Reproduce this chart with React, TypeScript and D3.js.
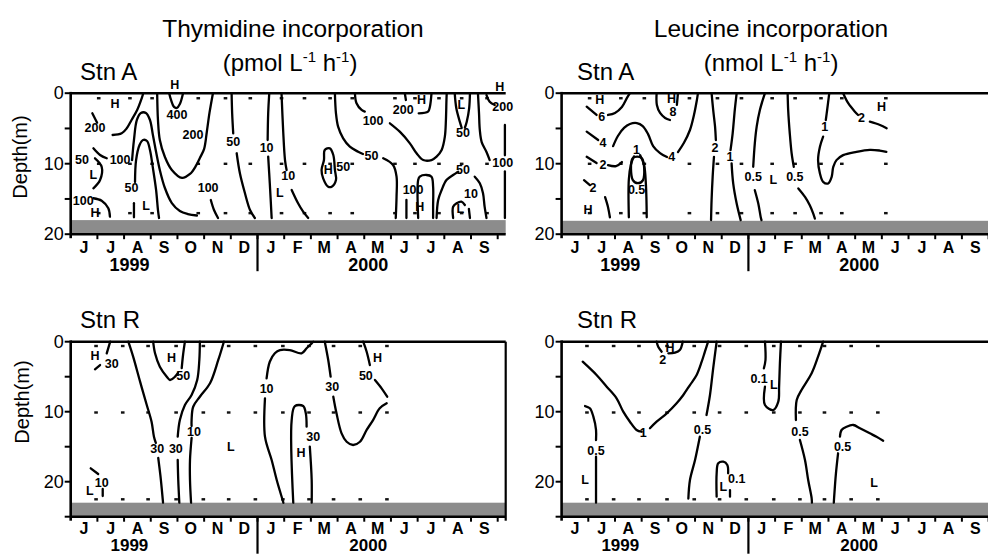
import React from 'react';
import * as d3 from 'd3';

type Pt = [number, number];
type Lbl = [string, number, number];

const FONT = "'Liberation Sans', Arial, Helvetica, sans-serif";
const MONTH_LABELS = ['J', 'J', 'A', 'S', 'O', 'N', 'D', 'J', 'F', 'M', 'A', 'M', 'J', 'J', 'A', 'S'];
const YEAR_LABELS: [string, number][] = [['1999', 2.2], ['2000', 11.15]];
const YEAR_BREAK = 7;
const X_SPAN = 16.3;
const Y_TICKS_A = [0, 5, 10, 15, 20];
const Y_TICKS_R = [0, 5, 10, 15, 20, 25];
const Y_LABELS = [0, 10, 20];

// sampling dates (months since 1 June 1999) and depths (m)
const SAMPLES_A_THY = [1.05, 2.22, 3.05, 4.78, 5.8, 6.73, 7.9, 8.76, 9.72, 10.55, 12.15, 12.9, 13.8, 14.65, 15.6];
const SAMPLES_A_LEU = [1.05, 2.22, 3.1, 4.79, 5.84, 6.74, 7.89, 8.75, 9.72, 10.5, 12.15];
const DEPTHS_A = [0.7, 10, 17];
const SAMPLES_R = [0.95, 1.95, 2.9, 3.95, 4.97, 5.92, 6.92, 7.95, 8.93, 9.85, 10.85, 11.85];
const DEPTHS_R = [0.6, 10.1, 22.5];

// Thymidine, Stn A: isolines [month, depth]
const THY_A_LINES: Pt[][] = [
  [[0.81, 2.85], [0.99, 4.18]],
  [[1.57, 5.93], [1.91, 5.69], [2.10, 4.98], [2.28, 3.80], [2.49, 2.38], [2.66, 0.72], [2.72, 0]],
  [[0.85, 7.82], [1.10, 8.77], [1.35, 9.23]],
  [[0.91, 9.23], [1.16, 10.43], [1.10, 12.31], [0.85, 13.49]],
  [[0.85, 14.9], [1.16, 15.25], [1.41, 16.33], [1.47, 17.52]],
  [[2.30, 9.48], [2.37, 6.64], [2.48, 3.8], [2.63, 2.81], [2.82, 2.81], [2.97, 3.8], [3.08, 5.93], [3.20, 8.34], [3.34, 10.89], [3.53, 13.45], [3.79, 15.58], [4.09, 16.71], [4.39, 17.14], [4.73, 17.35]],
  [[2.41, 12.6], [2.45, 9.48], [2.58, 7.35], [2.71, 6.64], [2.86, 6.78], [2.97, 8.06], [3.08, 10.6], [3.20, 13.73], [3.27, 16.57], [3.31, 17.7]],
  [[2.37, 15.6], [2.37, 17.6]],
  [[3.24, 0], [3.27, 3.8], [3.34, 6.64], [3.53, 9.05], [3.79, 10.89], [4.17, 12.02], [4.47, 11.46], [4.69, 10.32], [4.84, 9.19], [5.0, 7.9], [5.1, 5.5], [5.2, 2.8], [5.33, 0]],
  [[3.69, 0], [3.76, 0.96], [3.87, 1.95], [3.98, 2.09], [4.09, 1.53], [4.21, 0]],
  [[5.25, 15.15], [5.37, 16.57], [5.52, 17.7]],
  [[6.03, 0], [6.05, 2.85], [6.09, 5.69]],
  [[6.22, 8.52], [6.34, 11.36], [6.53, 14.2], [6.72, 16.57], [6.90, 17.7]],
  [[7.44, 0], [7.40, 2.85], [7.38, 6.64]],
  [[7.40, 9.0], [7.46, 12.78], [7.53, 17.7]],
  [[7.90, 0], [7.96, 5.22], [8.03, 9.48], [8.09, 10.89]],
  [[8.28, 13.73], [8.52, 15.62], [8.71, 16.81], [8.90, 17.7]],
  [[9.90, 0], [9.94, 2.85], [10.02, 4.75], [10.21, 6.4], [10.46, 7.59], [10.77, 8.3], [10.95, 8.63]],
  [[11.71, 9.23], [12.08, 10.18], [12.21, 11.84], [12.21, 14.68], [12.18, 17.7]],
  [[10.65, 0], [10.71, 1.43], [10.90, 2.38], [11.02, 2.62]],
  [[11.96, 4.27], [12.33, 5.46], [12.71, 7.11], [12.96, 8.52], [13.21, 9.48], [13.52, 9.48], [13.71, 9.0], [13.90, 8.06], [14.02, 6.17], [14.06, 3.8], [14.08, 0.96], [14.09, 0]],
  [[12.52, 0], [12.56, 0.96]],
  [[13.04, 2.85], [13.39, 2.62], [13.46, 1.91], [13.52, 0]],
  [[14.39, 0], [14.45, 2.14], [14.58, 4.04], [14.65, 4.9]],
  [[14.77, 4.9], [14.84, 4.04], [14.93, 2.14], [14.96, 0]],
  [[15.26, 0], [15.30, 2.85], [15.33, 5.22], [15.40, 6.93], [15.58, 8.34], [15.70, 9.48]],
  [[15.58, 0.26], [15.70, 1.2], [15.89, 1.67]],
  [[16.27, 4.5], [16.27, 8.8]],
  [[16.27, 11.1], [16.27, 17.7]],
  [[12.58, 15.15], [12.58, 17.7]],
  [[13.02, 17.7], [13.02, 12.31], [13.08, 11.84], [13.33, 11.6], [13.52, 11.84], [13.58, 13.26], [13.58, 16.1], [13.58, 17.7]],
  [[13.71, 17.7], [13.77, 15.15], [13.90, 13.73], [14.08, 12.31], [14.33, 11.6], [14.52, 11.13]],
  [[15.14, 11.84], [15.33, 12.78], [15.45, 14.2], [15.51, 16.1], [15.58, 17.7]],
  [[14.33, 17.7], [14.33, 16.1], [14.46, 15.62], [14.64, 15.39], [14.77, 15.86]],
  [[14.92, 16.4], [14.96, 17.7]],
];
const THY_A_LOOPS: Pt[][] = [
  [[9.52, 8.06], [9.71, 7.82], [9.84, 8.77], [9.90, 10.89], [9.94, 12.31], [9.78, 13.26], [9.65, 13.26], [9.46, 12.07], [9.40, 10.89], [9.49, 9.48]],
];
const THY_A_LABELS: Lbl[] = [
  ['200', 0.91, 4.9], ['H', 1.66, 1.53], ['100', 1.85, 9.48], ['50', 0.42, 9.48], ['L', 0.85, 11.6],
  ['100', 0.47, 15.25], ['H', 0.91, 17.03], ['50', 2.28, 13.45], ['L', 2.82, 16.0], ['200', 4.58, 5.93],
  ['400', 3.98, 3.09], ['H', 3.9, -1.2], ['100', 5.15, 13.45], ['50', 6.09, 6.88], ['10', 7.34, 7.8],
  ['10', 8.15, 11.8], ['L', 7.84, 14.2], ['H', 9.65, 10.89], ['50', 10.21, 10.5], ['50', 11.27, 8.9],
  ['100', 11.33, 4.0], ['200', 12.46, 2.38], ['H', 13.15, 0.96], ['L', 14.64, 1.67], ['50', 14.70, 5.6],
  ['200', 16.19, 1.96], ['H', 16.08, -0.9], ['100', 16.19, 9.9], ['100', 12.83, 13.73], ['H', 13.08, 16.1],
  ['50', 14.70, 10.89], ['10', 15.0, 14.3], ['L', 14.6, 16.4],
];

// Leucine, Stn A
const LEU_A_LINES: Pt[][] = [
  [[0.94, 1.91], [1.31, 3.09]],
  [[1.74, 3.09], [2.00, 2.80], [2.26, 1.95], [2.45, 0.67], [2.56, 0]],
  [[0.94, 5.46], [1.37, 6.64]],
  [[1.93, 7.5], [2.11, 6.07], [2.34, 4.93], [2.56, 4.37], [2.82, 4.24], [3.04, 4.66], [3.24, 5.8], [3.43, 7.5], [3.69, 8.5], [3.95, 9.06]],
  [[4.36, 8.35], [4.58, 7.07], [4.81, 5.22], [4.96, 3.09], [5.07, 0.95], [5.11, 0]],
  [[3.56, 0], [3.57, 1.66], [3.69, 2.8], [3.88, 3.51], [4.06, 3.8]],
  [[4.32, 1.66], [4.36, 0]],
  [[0.94, 9.02], [1.31, 9.91]],
  [[1.74, 10.2], [2.04, 10.34], [2.26, 9.77]],
  [[2.52, 17.6], [2.52, 12.2], [2.60, 10.1], [2.71, 8.96]],
  [[2.94, 8.78], [3.09, 10.2], [3.16, 13.0], [3.19, 17.6]],
  [[0.84, 12.33], [1.06, 13.04]],
  [[1.63, 14.75], [1.74, 16.17], [1.81, 17.6]],
  [[5.62, 0], [5.68, 2.38], [5.75, 4.75], [5.78, 6.64]],
  [[5.71, 9.02], [5.66, 11.86], [5.62, 15.18], [5.60, 18.0]],
  [[6.56, 0], [6.49, 2.38], [6.41, 5.69], [6.33, 8.07]],
  [[6.37, 9.96], [6.43, 12.8], [6.56, 15.65], [6.71, 18.0]],
  [[7.62, 0], [7.43, 2.38], [7.31, 4.75], [7.24, 7.11], [7.18, 10.44]],
  [[7.24, 13.76], [7.37, 15.65], [7.46, 17.55], [7.49, 18.0]],
  [[8.47, 0], [8.49, 2.38], [8.55, 5.69], [8.62, 8.53], [8.70, 10.44]],
  [[8.87, 13.51], [9.12, 14.71], [9.30, 15.89], [9.43, 17.07], [9.49, 17.78]],
  [[10.03, 0], [9.95, 2.38], [9.90, 3.80]],
  [[9.80, 6.17], [9.68, 7.6], [9.61, 9.49], [9.68, 11.38], [9.80, 12.57], [9.99, 12.8], [10.12, 11.86], [10.18, 10.44], [10.30, 9.49], [10.55, 8.78], [11.05, 8.31], [11.55, 8.03], [11.92, 8.13], [12.17, 8.31]],
  [[10.55, 0], [10.74, 1.42], [10.99, 2.62], [11.11, 3.09]],
  [[11.55, 4.04], [11.93, 4.51], [12.18, 4.98]],
];
const LEU_A_LOOPS: Pt[][] = [
  [[2.67, 9.2], [3.0, 9.2], [3.05, 12.33], [2.86, 12.76], [2.67, 12.33]],
];
const LEU_A_LABELS: Lbl[] = [
  ['H', 1.43, 1.0], ['6', 1.5, 3.33], ['4', 1.55, 7.03], ['4', 4.13, 9.06], ['H', 4.12, 0.81], ['8', 4.17, 2.66],
  ['2', 1.55, 10.2], ['1', 2.81, 8.06], ['0.5', 2.81, 13.75], ['2', 1.18, 13.47], ['H', 0.99, 16.6],
  ['2', 5.75, 7.82], ['1', 6.31, 9.02], ['0.5', 7.18, 11.86], ['L', 7.93, 12.33], ['0.5', 8.74, 11.86],
  ['1', 9.86, 4.75], ['2', 11.24, 3.56], ['H', 11.99, 1.91],
];

// Thymidine, Stn R
const THY_R_LINES: Pt[][] = [
  [[0.91, 3.94], [1.10, 3.33]],
  [[1.35, 1.66], [1.48, 0]],
  [[2.16, 0], [2.34, 2.14], [2.60, 5.71], [2.85, 9.04], [3.03, 11.43], [3.12, 13.57], [3.19, 14.47]],
  [[3.28, 16.61], [3.38, 19.76], [3.46, 23]],
  [[3.09, 0], [3.16, 1.66], [3.34, 3.57], [3.60, 5.0], [3.72, 5.47], [3.91, 5.0], [4.02, 4.47]],
  [[4.16, 3.76], [4.21, 1.9], [4.28, 0]],
  [[4.84, 0], [4.82, 2.61], [4.74, 5.47], [4.53, 7.61], [4.28, 9.04], [4.09, 11.19], [4.01, 13.57]],
  [[4.01, 16.9], [4.03, 19.76], [4.07, 23]],
  [[5.74, 0], [5.53, 2.61], [5.22, 5.94], [4.84, 7.86], [4.59, 9.29], [4.53, 11.19], [4.53, 12.04]],
  [[4.53, 13.76], [4.47, 16.9], [4.47, 19.76], [4.51, 23]],
  [[0.75, 18.09], [1.03, 18.9]],
  [[1.20, 21.04], [1.20, 22.04]],
  [[7.34, 5.23], [7.46, 2.86], [7.65, 1.66], [7.84, 1.19], [8.21, 1.19], [8.65, 1.66], [8.84, 0.94], [9.03, 0.23], [9.09, 0]],
  [[7.28, 8.09], [7.28, 13.57], [7.53, 16.9], [7.72, 19.76], [7.94, 22.61], [7.97, 23]],
  [[8.34, 23], [8.28, 11.19], [8.40, 9.19], [8.71, 9.19], [8.81, 10.23], [8.84, 12.14]],
  [[8.96, 15.0], [9.03, 19.76], [9.03, 23]],
  [[9.52, 0], [9.65, 2.61], [9.74, 5.0]],
  [[9.84, 7.86], [9.96, 10.23], [10.15, 13.09], [10.34, 14.29], [10.58, 14.76], [10.84, 14.29], [11.09, 12.61], [11.33, 11.19], [11.58, 9.51], [11.84, 8.8]],
  [[10.96, 0], [11.09, 1.43], [11.21, 3.33]],
  [[11.40, 5.47], [11.65, 6.66], [11.86, 7.86]],
];
const THY_R_LABELS: Lbl[] = [
  ['H', 0.91, 2.04], ['30', 1.54, 3.19], ['30', 3.24, 15.33], ['50', 4.22, 4.86], ['H', 3.78, 2.37],
  ['30', 3.94, 15.33], ['10', 4.62, 12.86], ['L', 6.0, 15.0], ['10', 1.16, 20.23], ['L', 0.72, 21.29],
  ['10', 7.34, 6.8], ['30', 9.09, 13.57], ['H', 8.63, 15.86], ['30', 9.80, 6.51], ['50', 11.06, 4.86], ['H', 11.50, 2.37],
];

// Leucine, Stn R
const LEU_R_LINES: Pt[][] = [
  [[3.56, 0], [3.62, 0.71], [3.75, 1.43]],
  [[4.0, 1.66], [4.25, 1.57], [4.43, 1.19], [4.54, 0]],
  [[0.79, 2.86], [1.31, 4.76], [1.69, 6.43], [2.06, 8.09], [2.31, 10.0], [2.56, 11.43], [2.81, 12.61], [3.0, 12.86]],
  [[3.31, 12.37], [3.56, 11.43], [3.94, 10.23], [4.31, 8.8], [4.56, 7.61], [4.81, 6.19], [5.06, 4.76], [5.25, 2.86], [5.37, 1.43], [5.49, 0]],
  [[5.81, 0], [5.68, 3.8], [5.56, 7.61], [5.43, 10.47]],
  [[5.18, 13.57], [5.0, 16.9], [4.81, 19.76], [4.75, 22.4]],
  [[0.88, 9.19], [1.06, 9.51], [1.19, 10.71], [1.29, 12.61], [1.29, 14.04]],
  [[1.29, 16.43], [1.29, 19.76], [1.29, 23]],
  [[5.81, 22.14], [5.81, 18.8], [5.87, 17.37], [6.06, 17.14], [6.21, 17.61], [6.24, 18.8]],
  [[6.31, 21.19], [6.31, 22.14]],
  [[7.62, 0], [7.64, 2.61], [7.58, 3.8]],
  [[7.62, 6.43], [7.62, 9.04], [7.93, 9.76], [8.12, 8.57], [8.15, 6.43], [8.18, 3.09], [8.22, 0]],
  [[9.80, 0], [9.61, 2.14], [9.37, 4.51], [8.99, 6.9], [8.81, 8.33], [8.78, 11.19]],
  [[8.93, 14.04], [9.12, 16.9], [9.24, 19.76], [9.37, 22.37], [9.38, 23]],
  [[10.43, 13.57], [10.49, 12.61], [10.68, 12.14], [10.93, 11.9], [11.18, 12.37], [11.55, 13.09], [11.80, 13.57], [12.05, 14.14]],
  [[10.36, 15.94], [10.28, 18.8], [10.21, 22.37], [10.2, 23]],
];
const LEU_R_LABELS: Lbl[] = [
  ['H', 4.06, 0.94], ['2', 3.79, 2.61], ['1', 3.06, 13.09], ['0.5', 5.28, 12.61], ['0.5', 1.29, 15.57],
  ['L', 0.88, 19.76], ['0.1', 6.56, 19.66], ['L', 6.06, 20.73], ['0.1', 7.40, 5.37], ['L', 7.95, 6.19],
  ['0.5', 8.93, 12.86], ['0.5', 10.53, 15.0], ['L', 11.71, 20.23],
];

interface PanelProps {
  left: number;
  top: number;
  bottom: number;
  depthMax: number;
  band: number;
  yTicks: number[];
  lines: Pt[][];
  loops: Pt[][];
  labels: Lbl[];
  samples: number[];
  depths: number[];
  rightBorder: boolean;
  monthDy: number;
  yearDy: number;
  yearSize: number;
}

function Panel(p: PanelProps) {
  const x = d3.scaleLinear().domain([0, X_SPAN]).range([p.left, p.left + 435]);
  const y = d3.scaleLinear().domain([0, p.depthMax]).range([p.top, p.bottom]);
  const line = d3.line<Pt>().x(d => x(d[0])).y(d => y(d[1])).curve(d3.curveCatmullRom.alpha(0.5));
  const loop = d3.line<Pt>().x(d => x(d[0])).y(d => y(d[1])).curve(d3.curveCatmullRomClosed.alpha(0.5));
  const x0 = x(0), x1 = x(X_SPAN), yb = y(p.depthMax);
  const months = d3.range(0, 16);
  return (
    <g>
      <rect x={x0} y={y(p.band)} width={x1 - x0} height={yb - y(p.band)} fill="#8c8c8c" />
      {p.samples.map((s, i) => p.depths.map((dd, j) => (
        <rect key={`s${i}-${j}`} x={x(s) - 1.8} y={y(dd) - 1.1} width={3.6} height={2.4} fill="#111" />
      )))}
      {p.lines.map((l, i) => (
        <path key={`l${i}`} d={line(l) || ''} fill="none" stroke="#000" strokeWidth={2.3} strokeLinecap="round" strokeLinejoin="round" />
      ))}
      {p.loops.map((l, i) => (
        <path key={`o${i}`} d={loop(l) || ''} fill="none" stroke="#000" strokeWidth={2.3} strokeLinejoin="round" />
      ))}
      {p.labels.map(([t, m, dd], i) => (
        <text key={`t${i}`} x={x(m)} y={y(dd)} textAnchor="middle" dominantBaseline="central"
          fontFamily={FONT} fontWeight="bold" fontSize={12.5}>{t}</text>
      ))}
      {/* frame */}
      <line x1={x0} x2={x1} y1={y(0)} y2={y(0)} stroke="#000" strokeWidth={2.6} />
      <line x1={x0} x2={x1} y1={yb} y2={yb} stroke="#000" strokeWidth={2.6} />
      <line x1={x0} x2={x0} y1={y(0) - 1.3} y2={yb + 4} stroke="#000" strokeWidth={2.6} />
      {p.rightBorder && <line x1={x1} x2={x1} y1={y(0)} y2={yb + 4} stroke="#000" strokeWidth={2.2} />}
      {p.yTicks.map(t => (
        <line key={`yt${t}`} x1={x0 - 6} x2={x0} y1={y(t)} y2={y(t)} stroke="#000" strokeWidth={2} />
      ))}
      {Y_LABELS.map(t => (
        <text key={`yl${t}`} x={x0 - 7} y={y(t)} textAnchor="end" dominantBaseline="central"
          fontFamily={FONT} fontSize={18}>{t}</text>
      ))}
      {d3.range(1, 17).map(i => (
        <line key={`xt${i}`} x1={x(i)} x2={x(i)} y1={yb} y2={yb + 5} stroke="#000" strokeWidth={2} />
      ))}
      {months.map(i => (
        <text key={`ml${i}`} x={x(i + 0.5)} y={yb + p.monthDy} textAnchor="middle" fontFamily={FONT}
          fontWeight="bold" fontSize={16}>{MONTH_LABELS[i]}</text>
      ))}
      <line x1={x(YEAR_BREAK)} x2={x(YEAR_BREAK)} y1={yb} y2={yb + 37} stroke="#000" strokeWidth={2.2} />
      {YEAR_LABELS.map(([t, m]) => (
        <text key={t} x={x(m)} y={yb + p.yearDy} textAnchor="middle" fontFamily={FONT}
          fontWeight="bold" fontSize={p.yearSize}>{t}</text>
      ))}
    </g>
  );
}

function Unit({ x, y, unit }: { x: number; y: number; unit: string }) {
  return (
    <text x={x} y={y} textAnchor="middle" fontFamily={FONT} fontSize={24}>
      ({unit} L<tspan dy={-9} fontSize={15}>-1</tspan><tspan dy={9}> h</tspan><tspan dy={-9} fontSize={15}>-1</tspan><tspan dy={9}>)</tspan>
    </text>
  );
}

export default function App() {
  return (
    <svg width={988} height={554} style={{ position: 'absolute', left: 0, top: 0, background: '#fff' }}>
      <rect x={0} y={0} width={988} height={554} fill="#fff" />
      <text x={293} y={37} textAnchor="middle" fontFamily={FONT} fontSize={24.5}>Thymidine incorporation</text>
      <Unit x={290} y={71} unit="pmol" />
      <text x={771} y={37} textAnchor="middle" fontFamily={FONT} fontSize={24.5}>Leucine incorporation</text>
      <Unit x={771} y={71} unit="nmol" />

      <text x={80} y={80} fontFamily={FONT} fontSize={24}>Stn A</text>
      <text x={577} y={80} fontFamily={FONT} fontSize={24}>Stn A</text>
      <text x={80} y={328} fontFamily={FONT} fontSize={24}>Stn R</text>
      <text x={577} y={328} fontFamily={FONT} fontSize={24}>Stn R</text>

      <text transform="translate(27,157) rotate(-90)" textAnchor="middle" fontFamily={FONT} fontSize={20}>Depth(m)</text>
      <text transform="translate(29,402) rotate(-90)" textAnchor="middle" fontFamily={FONT} fontSize={20}>Depth(m)</text>

      <Panel left={70.7} top={93.2} bottom={234.2} depthMax={20} band={18} yTicks={Y_TICKS_A}
        lines={THY_A_LINES} loops={THY_A_LOOPS} labels={THY_A_LABELS}
        samples={SAMPLES_A_THY} depths={DEPTHS_A} rightBorder={false} monthDy={19} yearDy={37} yearSize={18} />
      <Panel left={561.6} top={93.2} bottom={234.2} depthMax={20} band={18.1} yTicks={Y_TICKS_A}
        lines={LEU_A_LINES} loops={LEU_A_LOOPS} labels={LEU_A_LABELS}
        samples={SAMPLES_A_LEU} depths={DEPTHS_A} rightBorder={false} monthDy={19} yearDy={37} yearSize={18} />
      <Panel left={70.7} top={341.7} bottom={516.7} depthMax={25} band={23} yTicks={Y_TICKS_R}
        lines={THY_R_LINES} loops={[]} labels={THY_R_LABELS}
        samples={SAMPLES_R} depths={DEPTHS_R} rightBorder={true} monthDy={17.5} yearDy={34.3} yearSize={17} />
      <Panel left={561.6} top={341.7} bottom={516.7} depthMax={25} band={23} yTicks={Y_TICKS_R}
        lines={LEU_R_LINES} loops={[]} labels={LEU_R_LABELS}
        samples={SAMPLES_R} depths={DEPTHS_R} rightBorder={false} monthDy={17.5} yearDy={34.3} yearSize={17} />
    </svg>
  );
}
